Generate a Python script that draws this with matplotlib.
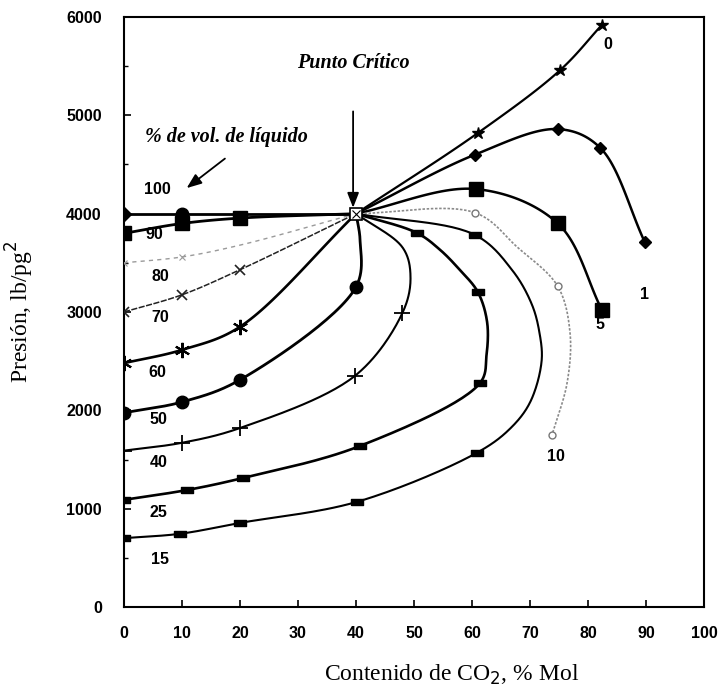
import numpy as np
import matplotlib
matplotlib.use("Agg")
import matplotlib.pyplot as plt

# ---------------- data ----------------
x_crit, p_crit = 40, 4000

# right-hand (gas side) curves, starting at the critical point
x_0 = [40, 61, 75.2, 82.4]
p_0 = [4000, 4820, 5460, 5920]
m_0 = [1, 2, 3]

x_1 = [40, 60.5, 74.8, 82.1, 89.8]
p_1 = [4000, 4600, 4860, 4670, 3710]
m_1 = [1, 2, 3, 4]

x_5 = [40, 60.7, 74.8, 82.4]
p_5 = [4000, 4250, 3900, 3020]
m_5 = [1, 2, 3]

x_10 = [40, 60.5, 67.8, 74.8, 76.9, 76.4, 73.8]
p_10 = [4000, 4010, 3660, 3260, 2790, 2280, 1750]
m_10 = [1, 3, 6]

# loops (liquid side -> back to critical point)
x_15 = [0, 9.7, 20, 40.2, 60.8, 66.5, 70, 72, 71.6, 70.3, 67, 60.5, 40]
p_15 = [700, 745, 855, 1070, 1567, 1810, 2080, 2500, 2800, 3080, 3420, 3784, 4000]
m_15 = [0, 1, 2, 3, 4, 11]

x_25 = [0, 10.9, 20.5, 40.7, 61.4, 62.5, 62.6, 61, 57.9, 54.5, 50.5, 40]
p_25 = [1090, 1190, 1312, 1638, 2279, 2560, 2900, 3204, 3428, 3632, 3804, 4000]
m_25 = [0, 1, 2, 3, 4, 7, 10]

x_40 = [0, 10, 20, 39.8, 48, 49.4, 48.1, 40]
p_40 = [1590, 1670, 1820, 2350, 2990, 3350, 3650, 4000]
m_40 = [0, 1, 2, 3, 4]

x_50 = [0, 10, 20, 40, 40.7, 40]
p_50 = [1975, 2085, 2310, 3255, 3730, 4000]
m_50 = [0, 1, 2, 3]

x_60 = [0, 10, 20, 40]
p_60 = [2480, 2615, 2850, 4000]
m_60 = [0, 1, 2]

x_70 = [0, 10, 20, 40]
p_70 = [3000, 3175, 3430, 4000]
m_70 = [0, 1, 2]

x_80 = [0, 10, 20, 40]
p_80 = [3500, 3560, 3680, 4000]
m_80 = [0, 1]

x_90 = [0, 10, 20, 40]
p_90 = [3800, 3900, 3955, 4000]
m_90 = [0, 1, 2]

x_100 = [0, 10, 20, 40]
p_100 = [4000, 4000, 4000, 4000]

curve_labels = ["100", "90", "80", "70", "60", "50", "40", "25", "15", "0", "1", "5", "10"]
label_x = [5.7, 5.3, 6.2, 6.2, 5.7, 5.9, 5.9, 5.9, 6.2, 83.4, 89.8, 82.0, 74.5]
label_p = [4242, 3784, 3357, 2940, 2380, 1902, 1465, 966, 478, 5717, 3174, 2869, 1526]

x_ticks = [0, 10, 20, 30, 40, 50, 60, 70, 80, 90, 100]
p_ticks = [0, 1000, 2000, 3000, 4000, 5000, 6000]

# ---------------- helpers ----------------
SX, SY = 5.8, 0.0983  # approx px per unit, to smooth in isotropic space


def smooth(xs, ps, n=30):
    pts = np.column_stack([np.asarray(xs, float) * SX, np.asarray(ps, float) * SY])
    if len(pts) < 3:
        return np.asarray(xs, float), np.asarray(ps, float)
    P = np.vstack([2 * pts[0] - pts[1], pts, 2 * pts[-1] - pts[-2]])
    out = []

    def tj(ti, a, b):
        return ti + max(np.linalg.norm(b - a), 1e-6) ** 0.5

    for i in range(1, len(P) - 2):
        p0, p1, p2, p3 = P[i - 1], P[i], P[i + 1], P[i + 2]
        t0 = 0.0
        t1 = tj(t0, p0, p1)
        t2 = tj(t1, p1, p2)
        t3 = tj(t2, p2, p3)
        t = np.linspace(t1, t2, n, endpoint=False)[:, None]
        A1 = (t1 - t) / (t1 - t0) * p0 + (t - t0) / (t1 - t0) * p1
        A2 = (t2 - t) / (t2 - t1) * p1 + (t - t1) / (t2 - t1) * p2
        A3 = (t3 - t) / (t3 - t2) * p2 + (t - t2) / (t3 - t2) * p3
        B1 = (t2 - t) / (t2 - t0) * A1 + (t - t0) / (t2 - t0) * A2
        B2 = (t3 - t) / (t3 - t1) * A2 + (t - t1) / (t3 - t1) * A3
        C = (t2 - t) / (t2 - t1) * B1 + (t - t1) / (t2 - t1) * B2
        out.append(C)
    out.append(pts[-1:])
    out = np.vstack(out)
    return out[:, 0] / SX, out[:, 1] / SY


def curve(ax, xs, ps, marks, color="black", lw=1.8, ls="-", marker="o", ms=6,
          mfc=None, mec=None, mew=1.0, zorder=3):
    sx, sp = smooth(xs, ps)
    ax.plot(sx, sp, color=color, lw=lw, ls=ls, zorder=zorder, solid_capstyle="round")
    mx = [xs[i] for i in marks]
    mp = [ps[i] for i in marks]
    ax.plot(mx, mp, ls="none", marker=marker, ms=ms,
            mfc=mfc if mfc is not None else color,
            mec=mec if mec is not None else color, mew=mew, zorder=zorder + 1)


rect_marker = [(-2, -1), (2, -1), (2, 1), (-2, 1), (-2, -1)]

# ---------------- figure ----------------
plt.rcParams["font.family"] = ["Liberation Sans", "DejaVu Sans"]
fig = plt.figure(figsize=(7.19, 6.95), dpi=100)
ax = fig.add_axes([124 / 719, 88 / 695, 580 / 719, 590 / 695])

ax.set_xlim(0, 100)
ax.set_ylim(0, 6000)

# curves
curve(ax, x_0, p_0, m_0, lw=1.6, marker="*", ms=9)
curve(ax, x_1, p_1, m_1, lw=1.8, marker="D", ms=6)
curve(ax, x_5, p_5, m_5, lw=1.8, marker="s", ms=10)
curve(ax, x_10, p_10, m_10, color="#8a8a8a", lw=1.2, ls=(0, (1.5, 1)), marker="o", ms=5,
      mfc="white", mec="#777777")
curve(ax, x_15, p_15, m_15, lw=1.5, marker=rect_marker, ms=8)
curve(ax, x_25, p_25, m_25, lw=1.9, marker=rect_marker, ms=8)
curve(ax, x_40, p_40, m_40, lw=1.5, marker="+", ms=11, mew=1.3)
curve(ax, x_50, p_50, m_50, lw=2.0, marker="o", ms=9)
curve(ax, x_60, p_60, m_60, lw=1.9, marker=(6, 2, 0), ms=11, mew=1.5)
curve(ax, x_70, p_70, m_70, color="#222222", lw=1.1, ls=(0, (4, 1)), marker="x", ms=7, mew=1.2)
curve(ax, x_80, p_80, m_80, color="#9a9a9a", lw=1.0, ls=(0, (3, 3)), marker="x", ms=5, mew=0.8)
curve(ax, x_90, p_90, m_90, lw=2.0, marker="s", ms=10)
ax.plot(x_100, p_100, color="black", lw=2.0, zorder=3)
ax.plot(x_100[0], p_100[0], marker="D", ms=7, color="black", zorder=4)
ax.plot(x_100[1], p_100[1], marker="o", ms=9, color="black", zorder=4)

# critical point symbol
ax.plot(x_crit, p_crit, marker="s", ms=9, mfc="white", mec="black", mew=1.2, zorder=6)
ax.plot(x_crit, p_crit, marker="x", ms=6, color="black", mew=0.8, zorder=7)

# curve labels
for lab, lx, lp in zip(curve_labels, label_x, label_p):
    ax.text(lx, lp, lab, fontsize=11.5, fontweight="bold", ha="center", va="center", zorder=8)

# annotations
ax.text(39.5, 5534, "Punto Crítico", family=["Liberation Serif"], style="italic",
        fontweight="bold", fontsize=14.5, ha="center", va="center")
ax.annotate("", xy=(39.5, 4060), xytext=(39.5, 5040),
            arrowprops=dict(arrowstyle="-|>,head_length=0.9,head_width=0.35",
                            color="black", lw=1.3, shrinkA=0, shrinkB=0))
ax.text(3.6, 4781, "% de vol. de líquido", family=["Liberation Serif"], style="italic",
        fontweight="bold", fontsize=14.5, ha="left", va="center")
ax.annotate("", xy=(10.8, 4260), xytext=(17.4, 4560),
            arrowprops=dict(arrowstyle="-|>,head_length=0.9,head_width=0.35",
                            color="black", lw=1.3, shrinkA=0, shrinkB=0))

# axes styling
ax.set_xticks(x_ticks)
ax.set_yticks(p_ticks)
ax.set_yticks(np.arange(0, 6001, 500), minor=True)
ax.tick_params(axis="both", which="major", direction="in", length=5, width=1.2,
               labelsize=11.5)
ax.tick_params(axis="y", which="minor", direction="in", length=3, width=1)
ax.tick_params(axis="x", pad=14)
ax.tick_params(axis="y", pad=16)
for lab in ax.get_xticklabels() + ax.get_yticklabels():
    lab.set_fontweight("bold")
for s in ax.spines.values():
    s.set_linewidth(1.5)

ax.set_xlabel("Contenido de CO$_2$, % Mol", family=["Liberation Serif"], fontsize=17)
ax.xaxis.set_label_coords(0.564, -0.095)
ax.set_ylabel("Presión, lb/pg$^2$", family=["Liberation Serif"], fontsize=17,
              labelpad=22)

fig.savefig("out.png", dpi=100)
